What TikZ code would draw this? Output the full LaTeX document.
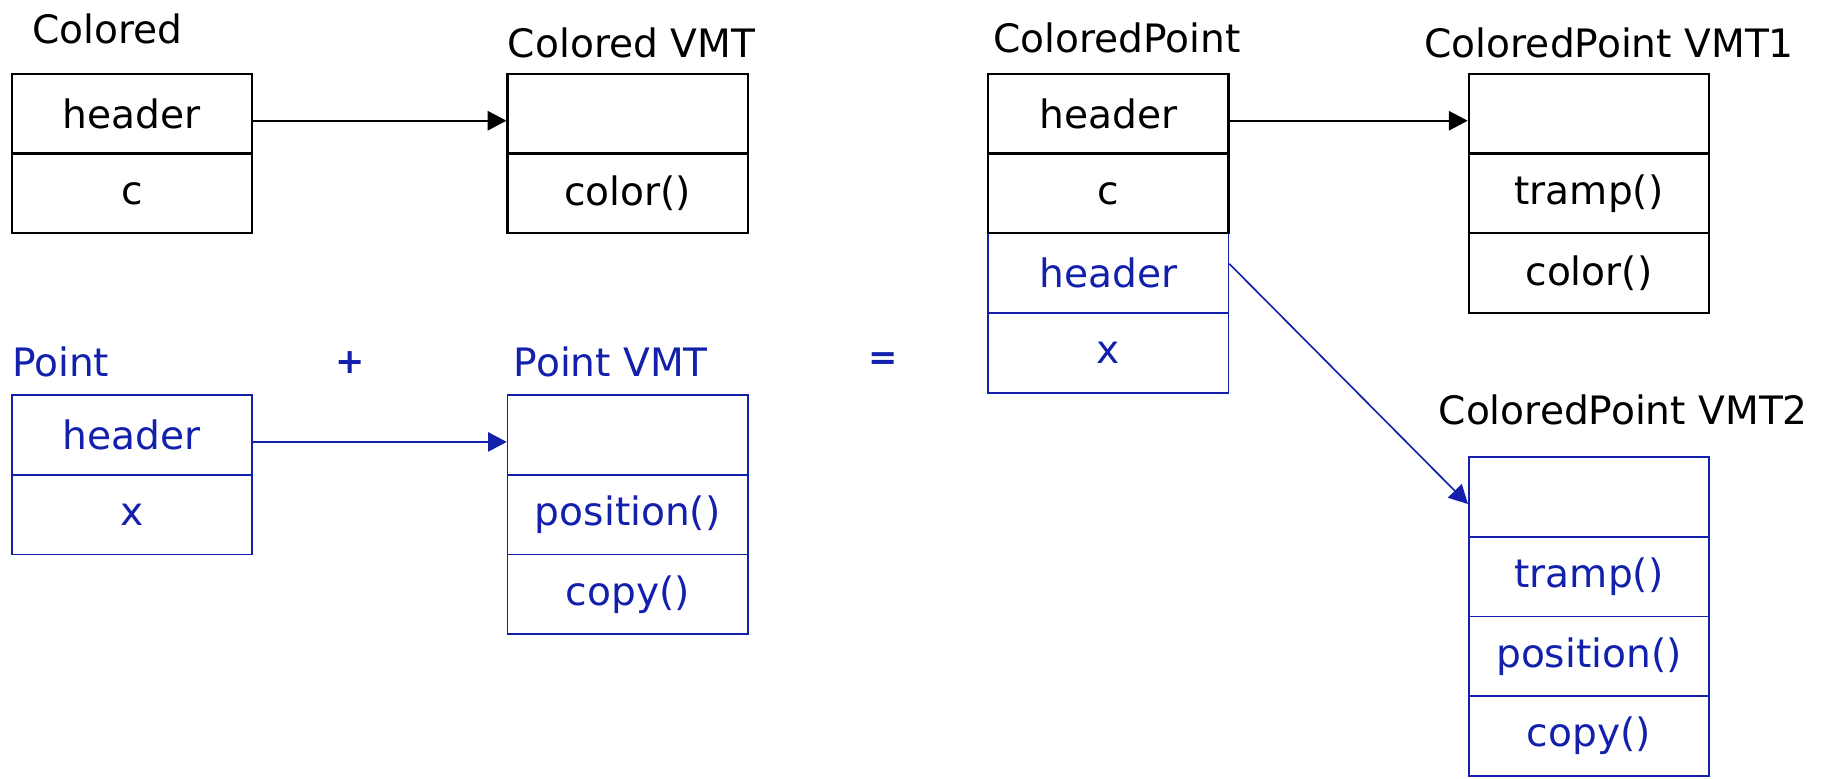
\documentclass[tikz,border=0pt]{standalone}
\usepackage{fontspec}
\setmainfont{DejaVu Sans}
\usetikzlibrary{arrows.meta}
\definecolor{cpblue}{RGB}{18,32,172}
\begin{document}
\begin{tikzpicture}[x=0.02cm,y=-0.02cm,
 cell/.style={draw=black, line width=1.1pt, minimum width=4.1cm, minimum height=1.36cm, inner sep=0pt, font=\fontsize{19}{22}\selectfont},
 bcell/.style={cell, draw=cpblue, text=cpblue, line width=0.8pt},
 title/.style={anchor=west, inner sep=0pt, font=\fontsize{19}{22}\selectfont},
 btitle/.style={title, text=cpblue},
 op/.style={inner sep=0pt, text=cpblue, font=\fontsize{17}{20}\selectfont\bfseries},
 ptr/.style={-{Triangle[length=0.32cm,width=0.33cm]}, line width=0.8pt},
 bptr/.style={ptr, draw=cpblue, fill=cpblue},
]
\useasboundingbox (0,0) rectangle (1568,664);

% titles
\node[title]  (tC)   at (27,25)   {Colored};
\node[title]  (tCV)  at (433,37)  {Colored VMT};
\node[title]  (tCP)  at (847,32)  {ColoredPoint};
\node[title]  (tV1)  at (1215,37) {ColoredPoint VMT1};
\node[btitle] (tP)   at (10,309)  {Point};
\node[op]     (plus) at (298.6,309) {+};
\node[btitle] (tPV)  at (438,309) {Point VMT};
\node[op]     (eq)   at (753,308) {=};
\node[title]  (tV2)  at (1227,350) {ColoredPoint VMT2};

% Colored
\node[cell] (ch) at (112.5,97)  {header};
\node[cell] (cc) at (112.5,165) {c};
% Colored VMT
\node[cell] (cv0) at (535.5,97)  {};
\node[cell] (cv1) at (535.5,165) {color()};
% ColoredPoint
\node[bcell] (cph2) at (945.5,233) {header};
\node[bcell] (cpx)  at (945.5,301) {x};
\node[cell]  (cph)  at (945.5,97)  {header};
\node[cell]  (cpc)  at (945.5,165) {c};
% ColoredPoint VMT1
\node[cell] (v10) at (1355.5,97)  {};
\node[cell] (v11) at (1355.5,165) {tramp()};
\node[cell] (v12) at (1355.5,233) {color()};
% Point
\node[bcell] (ph) at (112.5,371) {header};
\node[bcell] (px) at (112.5,439) {x};
% Point VMT
\node[bcell] (pv0) at (535.5,371) {};
\node[bcell] (pv1) at (535.5,439) {position()};
\node[bcell] (pv2) at (535.5,507) {copy()};
% ColoredPoint VMT2
\node[bcell] (v20) at (1355.5,424) {};
\node[bcell] (v21) at (1355.5,492) {tramp()};
\node[bcell] (v22) at (1355.5,560) {position()};
\node[bcell] (v23) at (1355.5,628) {copy()};

% pointers
\draw[ptr] ([yshift=-0.12cm]ch.east) -- ([yshift=-0.12cm]cv0.west);
\draw[ptr] ([yshift=-0.12cm]cph.east) -- ([yshift=-0.12cm]v10.west);
\draw[bptr] ([yshift=-0.12cm]ph.east) -- ([yshift=-0.12cm]pv0.west);
\draw[bptr] ([yshift=0.16cm]cph2.east) -- ([yshift=-0.12cm]v20.west);
\end{tikzpicture}
\end{document}
